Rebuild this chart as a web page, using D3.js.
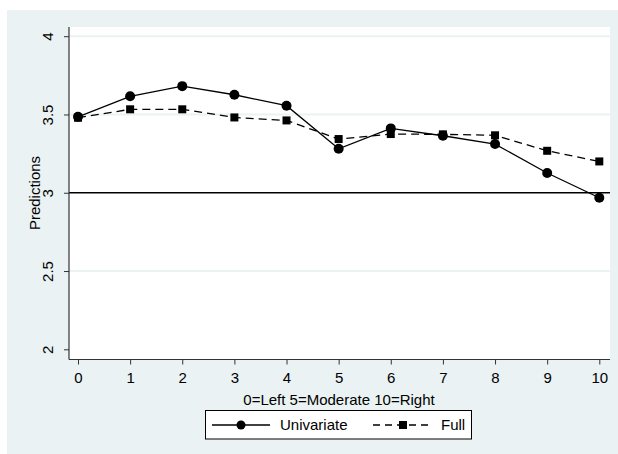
<!DOCTYPE html>
<html>
<head>
<meta charset="utf-8">
<script src="https://cdn.jsdelivr.net/npm/d3@7"></script>
<style>
html,body{margin:0;padding:0;background:#fff;}
svg{display:block;font-family:"Liberation Sans",Arial,sans-serif;}
</style>
</head>
<body>
<svg id="chart" width="618" height="454"></svg>
<script>
const categories = [0,1,2,3,4,5,6,7,8,9,10];
const univariate = [3.485,3.616,3.681,3.626,3.556,3.281,3.411,3.364,3.311,3.126,2.968];
const full = [3.479,3.533,3.533,3.481,3.462,3.343,3.375,3.373,3.367,3.268,3.200];
const yTicks = [2,2.5,3,3.5,4];
const seriesNames = ["Univariate","Full"];
const xTitle = "0=Left 5=Moderate 10=Right";
const yTitle = "Predictions";

const svg = d3.select("#chart");
const bg = "#eaf2f3";
svg.append("rect").attr("x",7).attr("y",10).attr("width",611).attr("height",444).attr("fill",bg);

const plot = {left:69, top:27, right:610, bottom:359.5};
svg.append("rect").attr("x",plot.left).attr("y",plot.top)
  .attr("width",plot.right-plot.left).attr("height",plot.bottom-plot.top).attr("fill","#fff");

const x = d3.scaleLinear().domain([0,10]).range([78,599.3]);
const y = d3.scaleLinear().domain([2,4]).range([349.3,36.2]);

// gridlines
svg.append("g").selectAll("line").data(yTicks.filter(d=>d!==3 && d!==2)).join("line")
  .attr("x1",plot.left).attr("x2",plot.right)
  .attr("y1",d=>y(d)).attr("y2",d=>y(d))
  .attr("stroke",bg).attr("stroke-width",2);

// reference line at 3
svg.append("line").attr("x1",plot.left).attr("x2",plot.right)
  .attr("y1",y(3)).attr("y2",y(3)).attr("stroke","#000").attr("stroke-width",1.3);

// axes
const yAxis = d3.axisLeft(y).tickValues(yTicks).tickFormat(d3.format("")).tickSize(5).tickSizeOuter(0);
const gy = svg.append("g").attr("transform",`translate(${plot.left},0)`).call(yAxis);
gy.attr("font-size",null).attr("font-family",null);
gy.select(".domain").remove();
svg.append("line").attr("x1",plot.left).attr("x2",plot.left).attr("y1",plot.top).attr("y2",plot.bottom)
  .attr("stroke","#333").attr("stroke-width",1.2);
gy.selectAll(".tick line").attr("stroke","#333").attr("stroke-width",1);
gy.selectAll(".tick text")
  .style("font-size","15px").attr("fill","#000")
  .attr("x",0)
  .attr("text-anchor","middle")
  .attr("transform","translate(-21,0) rotate(-90)")
  .attr("dy","0.35em");

const xAxis = d3.axisBottom(x).tickValues(categories).tickFormat(d3.format("d")).tickSize(5).tickSizeOuter(0);
const gx = svg.append("g").attr("transform",`translate(0,${plot.bottom})`).call(xAxis);
gx.attr("font-size",null).attr("font-family",null);
gx.select(".domain").remove();
svg.append("line").attr("x1",plot.left).attr("x2",plot.right).attr("y1",plot.bottom).attr("y2",plot.bottom)
  .attr("stroke","#333").attr("stroke-width",1.2);
gx.selectAll(".tick line").attr("stroke","#333").attr("stroke-width",1);
gx.selectAll(".tick text").style("font-size","15px").attr("fill","#000").attr("y",13).attr("dy","0.71em");

// titles
svg.append("text").attr("x",339).attr("y",405).attr("text-anchor","middle")
  .style("font-size","15px").attr("fill","#000").text(xTitle);
svg.append("text").attr("transform",`translate(40,193) rotate(-90)`).attr("text-anchor","middle")
  .style("font-size","15px").attr("fill","#000").text(yTitle);

// series
const line = d3.line().x((d,i)=>x(categories[i])).y(d=>y(d));
svg.append("path").datum(full).attr("d",line).attr("fill","none")
  .attr("stroke","#000").attr("stroke-width",1.3).attr("stroke-dasharray","8,5");
svg.append("path").datum(univariate).attr("d",line).attr("fill","none")
  .attr("stroke","#000").attr("stroke-width",1.3);
svg.append("g").selectAll("rect").data(full).join("rect")
  .attr("x",(d,i)=>x(categories[i])-4).attr("y",d=>y(d)-4)
  .attr("width",8).attr("height",8).attr("fill","#000");
svg.append("g").selectAll("circle").data(univariate).join("circle")
  .attr("cx",(d,i)=>x(categories[i])).attr("cy",d=>y(d)).attr("r",5).attr("fill","#000");

// legend
const lg = svg.append("g");
lg.append("rect").attr("x",205.5).attr("y",410.5).attr("width",266).attr("height",28.5)
  .attr("fill","#fff").attr("stroke","#000").attr("stroke-width",1);
const ly = 425;
lg.append("line").attr("x1",212).attr("x2",270).attr("y1",ly).attr("y2",ly).attr("stroke","#000").attr("stroke-width",1.3);
lg.append("circle").attr("cx",241).attr("cy",ly).attr("r",4.5).attr("fill","#000");
lg.append("text").attr("x",280).attr("y",ly).attr("dy","0.35em").style("font-size","15px").attr("fill","#000").text(seriesNames[0]);
lg.append("line").attr("x1",373).attr("x2",432).attr("y1",ly).attr("y2",ly).attr("stroke","#000").attr("stroke-width",1.3).attr("stroke-dasharray","7,5");
lg.append("rect").attr("x",399).attr("y",ly-4).attr("width",8).attr("height",8).attr("fill","#000");
lg.append("text").attr("x",441).attr("y",ly).attr("dy","0.35em").style("font-size","15px").attr("fill","#000").text(seriesNames[1]);
</script>
</body>
</html>
